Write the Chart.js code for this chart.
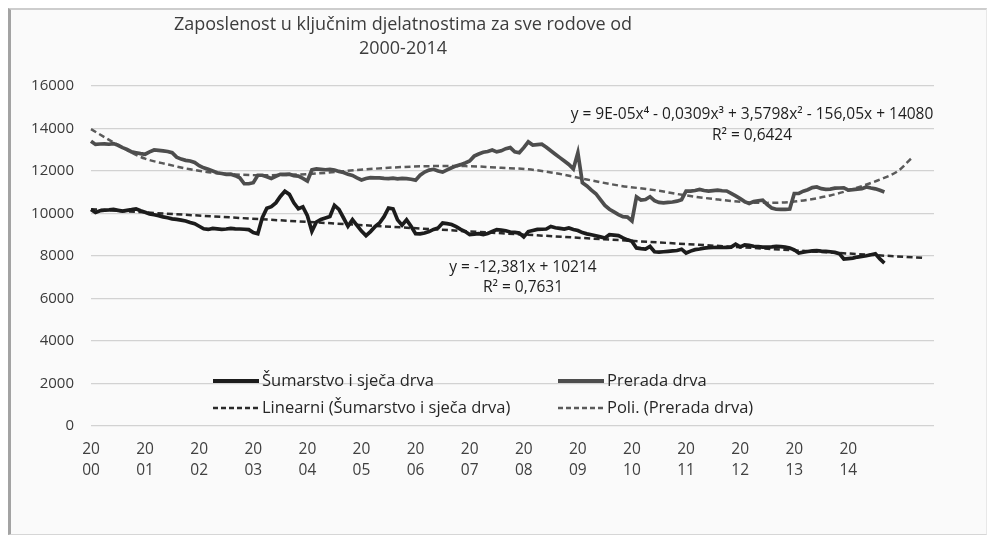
<!DOCTYPE html>
<html lang="hr">
<head>
<meta charset="UTF-8">
<title>Zaposlenost u ključnim djelatnostima</title>
<script src="https://cdn.jsdelivr.net/npm/chart.js"></script>
<style>
  html, body { margin: 0; padding: 0; background: #fff; }
  #frame {
    position: absolute; left: 8px; top: 8px; width: 975px; height: 524px;
    background: #fafafa;
    border-top: 2px solid #cdcdcd; border-left: 3px solid #a3a3a3;
    border-right: 1px solid #e8e8e8; border-bottom: 1px solid #d6d6d6;
  }
  #myChart { position: absolute; left: 0; top: 0; }
</style>
</head>
<body>
<div id="frame"></div>
<canvas id="myChart" width="989" height="536"></canvas>
<script>
// monthly categories: Jan 2000 .. Aug 2015 (axis extends past the data for the trend forecast)
const categories = [];
for (let y = 2000; y <= 2015; y++) {
  for (let m = 1; m <= 12; m++) {
    if (categories.length < 188) categories.push(y + '-' + String(m).padStart(2, '0'));
  }
}

// Šumarstvo i sječa drva (Jan 2000 .. Sep 2014)
const sumarstvo = [
  10190,10050,10130,10160,10170,10190,10150,10110,10150,10180,10220,10130,
  10060,9980,9940,9900,9840,9800,9750,9720,9690,9650,9580,9520,
  9400,9280,9250,9300,9280,9250,9270,9300,9280,9270,9260,9240,
  9100,9050,9800,10250,10320,10500,10800,11050,10900,10500,10220,10310,
  9900,9160,9600,9720,9790,9860,10380,10190,9800,9400,9710,9440,
  9170,8960,9150,9380,9550,9850,10260,10220,9700,9450,9700,9400,
  9050,9040,9080,9150,9250,9320,9550,9520,9480,9380,9250,9150,
  9010,9030,9050,9010,9060,9150,9240,9220,9190,9130,9110,9080,
  8900,9150,9200,9250,9260,9270,9390,9330,9300,9270,9320,9250,
  9200,9100,9040,9000,8950,8900,8850,9000,8980,8960,8850,8760,
  8690,8380,8350,8330,8450,8200,8180,8200,8220,8240,8260,8320,
  8140,8230,8300,8330,8370,8390,8400,8410,8400,8410,8420,8560,
  8430,8520,8500,8460,8440,8420,8420,8430,8450,8440,8420,8380,
  8290,8140,8180,8210,8240,8250,8230,8220,8200,8170,8110,7860,
  7880,7900,7950,7980,8010,8060,8100,7860,7670
];

// Prerada drva (Jan 2000 .. Sep 2014)
const prerada = [
  13400,13250,13270,13280,13260,13290,13210,13100,13020,12900,12860,12820,
  12790,12900,12990,12970,12950,12920,12860,12650,12560,12500,12470,12400,
  12250,12150,12080,12000,11920,11880,11840,11850,11780,11680,11400,11400,
  11450,11800,11800,11730,11650,11750,11840,11840,11850,11780,11760,11650,
  11530,12050,12100,12080,12060,12080,12050,11980,11930,11850,11790,11680,
  11580,11650,11690,11680,11680,11650,11640,11660,11630,11650,11640,11610,
  11570,11800,11950,12040,12080,12000,11950,12050,12150,12240,12300,12380,
  12470,12700,12800,12880,12920,12990,12900,12950,13050,13100,12900,12860,
  13100,13370,13220,13240,13260,13120,12950,12790,12630,12470,12310,12100,
  12860,11450,11300,11100,10930,10650,10380,10200,10080,9950,9850,9830,
  9650,10780,10630,10660,10790,10600,10520,10500,10520,10540,10580,10650,
  11050,11050,11080,11130,11080,11050,11080,11100,11070,11060,10950,10830,
  10700,10560,10470,10560,10600,10630,10420,10260,10200,10190,10190,10210,
  10940,10950,11050,11120,11220,11250,11170,11140,11150,11190,11200,11210,
  11100,11120,11150,11170,11250,11200,11160,11090,11010
];

// linear trend of Šumarstvo, read at its two ends (month index, value)
const linIdx = [0, 185];
const linVal = [10200, 7905];

// polynomial trend of Prerada (month index, value)
const polyIdx = [0, 5, 9, 12, 17, 22, 27, 32, 38, 44, 50, 61, 76, 83, 91, 97, 103, 110, 117, 125, 132, 139, 146, 150, 156, 164, 171, 175, 179, 182];
const polyVal = [13970, 13340, 12860, 12580, 12310, 12080, 11920, 11840, 11800, 11820, 11880, 12080, 12230, 12230, 12150, 12080, 11900, 11600, 11320, 11100, 10850, 10660, 10520, 10500, 10560, 10850, 11290, 11600, 12000, 12600];

const yTicks = [0, 2000, 4000, 6000, 8000, 10000, 12000, 14000, 16000];

function sparse(idx, val) {
  const arr = new Array(categories.length).fill(null);
  idx.forEach((k, i) => { arr[k] = val[i]; });
  return arr;
}

const FONT = "'Open Sans', 'Liberation Sans', sans-serif";

const textPlugin = {
  id: 'texts',
  afterDraw(chart) {
    const ctx = chart.ctx;
    ctx.save();
    ctx.textAlign = 'center';
    ctx.textBaseline = 'middle';
    // title
    ctx.fillStyle = '#3c3c3c';
    ctx.font = '18px ' + FONT;
    ctx.fillText('Zaposlenost u ključnim djelatnostima za sve rodove od', 403, 25, 460);
    ctx.fillText('2000-2014', 403, 49);
    // trend equations
    ctx.fillStyle = '#1e1e1e';
    ctx.font = '15.5px ' + FONT;
    ctx.fillText('y = 9E-05x\u2074 - 0,0309x\u00b3 + 3,5798x\u00b2 - 156,05x + 14080', 752, 115, 364);
    ctx.fillText('R\u00b2 = 0,6424', 752, 136);
    ctx.fillText('y = -12,381x + 10214', 523, 268, 148);
    ctx.fillText('R\u00b2 = 0,7631', 523, 288);

    // legend inside the plot
    const spots = [[213, 381], [558, 381], [213, 408], [558, 408]];
    ctx.textAlign = 'left';
    ctx.font = '16.5px ' + FONT;
    chart.data.datasets.forEach((ds, i) => {
      const [x, y] = spots[i];
      ctx.beginPath();
      ctx.strokeStyle = ds.borderColor;
      ctx.lineWidth = ds.borderDash ? 2.6 : 4;
      ctx.setLineDash(ds.borderDash ? [5, 3] : []);
      ctx.moveTo(x, y);
      ctx.lineTo(x + 46, y);
      ctx.stroke();
      ctx.setLineDash([]);
      ctx.fillStyle = '#262626';
      ctx.fillText(ds.label, x + 49, y);
    });
    ctx.restore();
  }
};

const config = {
  type: 'line',
  data: {
    labels: categories,
    datasets: [
      { label: 'Šumarstvo i sječa drva', data: sumarstvo, borderColor: '#1c1c1c', borderWidth: 3.7, pointRadius: 0, tension: 0 },
      { label: 'Prerada drva', data: prerada, borderColor: '#4d4d4d', borderWidth: 3.7, pointRadius: 0, tension: 0 },
      { label: 'Linearni (Šumarstvo i sječa drva)', data: sparse(linIdx, linVal), borderColor: '#2a2a2a', borderWidth: 2.5, borderDash: [6, 3.5], pointRadius: 0, spanGaps: true },
      { label: 'Poli. (Prerada drva)', data: sparse(polyIdx, polyVal), borderColor: '#5a5a5a', borderWidth: 2.5, borderDash: [6, 3.5], pointRadius: 0, spanGaps: true, cubicInterpolationMode: 'monotone' }
    ]
  },
  options: {
    responsive: false,
    animation: false,
    layout: { padding: { top: 86, right: 55, left: 0, bottom: 0 } },
    plugins: { legend: { display: false }, title: { display: false }, tooltip: { enabled: false } },
    scales: {
      x: {
        type: 'category',
        offset: false,
        grid: { display: false, drawTicks: false },
        border: { display: false },
        afterFit(scale) { scale.height = 110; },
        ticks: {
          autoSkip: false, maxRotation: 0, minRotation: 0, padding: 13,
          color: '#404040', font: { family: FONT, size: 15.5, lineHeight: 1.35 },
          callback(val, index) {
            if (index % 12 !== 0) return '';
            const yr = categories[index].slice(0, 4);
            return yr > '2014' ? '' : ['20', yr.slice(2)];
          }
        }
      },
      y: {
        min: 0, max: 16000,
        afterFit(scale) { scale.width = 91; },
        afterBuildTicks(scale) { scale.ticks = yTicks.map(v => ({ value: v })); },
        grid: { color: '#d2d2d2', lineWidth: 1.2, drawTicks: false },
        border: { display: false },
        ticks: {
          padding: 17, color: '#3a3a3a', font: { family: FONT, size: 15 },
          callback(val) { return String(val); }
        }
      }
    }
  },
  plugins: [textPlugin]
};

const myChart = new Chart(document.getElementById('myChart'), config);
</script>
</body>
</html>
